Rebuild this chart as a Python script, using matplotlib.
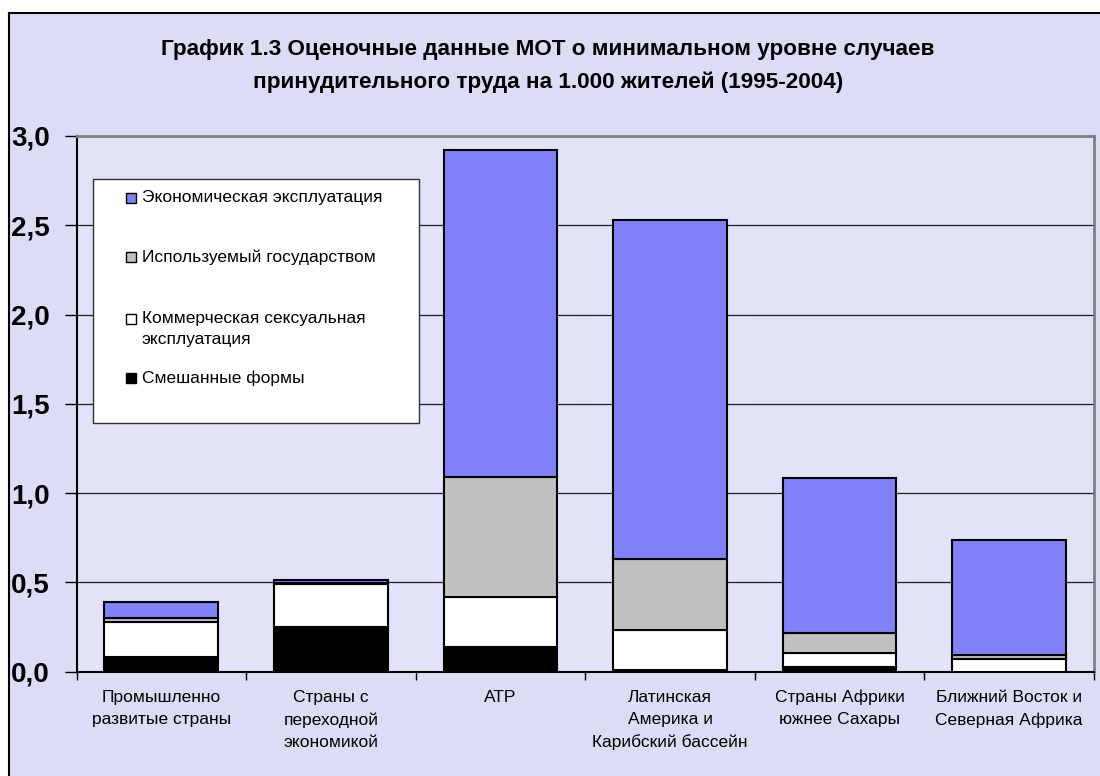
import matplotlib
matplotlib.use('Agg')
import matplotlib.pyplot as plt
from matplotlib.patches import Rectangle
from matplotlib.lines import Line2D
import numpy as np

plt.rcParams['font.family'] = ['Liberation Sans', 'DejaVu Sans']

title = ("График 1.3 Оценочные данные МОТ о минимальном уровне случаев\n"
         "принудительного труда на 1.000 жителей (1995-2004)")

categories = ["Промышленно\nразвитые страны",
              "Страны с\nпереходной\nэкономикой",
              "АТР",
              "Латинская\nАмерика и\nКарибский бассейн",
              "Страны Африки\nюжнее Сахары",
              "Ближний Восток и\nСеверная Африка"]

# stacked from bottom to top
mixed = [0.08, 0.25, 0.14, 0.01, 0.025, 0.0]
commercial_sex = [0.20, 0.24, 0.28, 0.22, 0.08, 0.07]
state_imposed = [0.02, 0.005, 0.67, 0.40, 0.11, 0.025]
economic = [0.09, 0.02, 1.83, 1.90, 0.87, 0.64]

series_names = ["Экономическая эксплуатация",
                "Используемый государством",
                "Коммерческая сексуальная\nэксплуатация",
                "Смешанные формы"]

y_ticks = [0.0, 0.5, 1.0, 1.5, 2.0, 2.5, 3.0]
y_tick_labels = ["0,0", "0,5", "1,0", "1,5", "2,0", "2,5", "3,0"]

bg = '#dcdcf6'
plot_bg = '#e2e2f8'
col_econ = '#8080f8'
col_state = '#c0c0c0'
col_sex = '#ffffff'
col_mixed = '#000000'

W, H = 1100, 776
fig = plt.figure(figsize=(11, 7.76), dpi=100, facecolor='white')


def fx(px):
    return px / W


def fy(py):
    return 1 - py / H


# patterned chart area and its border
fig.patches.append(Rectangle((fx(9), 0), 1 - fx(9), fy(13), transform=fig.transFigure,
                             facecolor=bg, edgecolor='none', zorder=-1))
fig.add_artist(Line2D([fx(9), fx(9)], [0, fy(13)], color='black', lw=1.5))
fig.add_artist(Line2D([fx(9), 1], [fy(13), fy(13)], color='black', lw=1.5))

ax = fig.add_axes([fx(76.5), fy(671.5), fx(1094) - fx(76.5), fy(136) - fy(671.5)])
ax.set_facecolor(plot_bg)

x = np.arange(len(categories))
bottom = np.zeros(len(categories))
for vals, color in zip([mixed, commercial_sex, state_imposed, economic],
                       [col_mixed, col_sex, col_state, col_econ]):
    ax.bar(x, vals, width=0.67, bottom=bottom, color=color,
           edgecolor='black', linewidth=1.5, zorder=3)
    bottom += np.array(vals)

ax.set_xlim(-0.5, len(categories) - 0.5)
ax.set_ylim(0, 3.0)

ax.set_yticks(y_ticks)
ax.set_yticklabels(y_tick_labels, fontsize=20, fontweight='bold')
ax.tick_params(axis='y', direction='out', length=9, width=1, pad=10)
ax.yaxis.grid(True, color='#202020', lw=0.9)
ax.set_axisbelow(True)

ax.set_xticks(np.arange(len(categories) + 1) - 0.5)
ax.set_xticklabels([])
ax.tick_params(axis='x', which='major', direction='out', length=6, width=1)
ax.set_xticks(x, minor=True)
ax.set_xticklabels(categories, minor=True, fontsize=12.5, linespacing=1.6)
ax.tick_params(axis='x', which='minor', length=0, pad=13)

for side in ['left', 'bottom']:
    ax.spines[side].set_color('black')
    ax.spines[side].set_linewidth(1.5)
for side in ['top', 'right']:
    ax.spines[side].set_color('#808080')
    ax.spines[side].set_linewidth(2)

fig.text(fx(548), fy(66), title, ha='center', va='center',
         fontsize=16.2, fontweight='bold', linespacing=1.65)

# legend box
fig.patches.append(Rectangle((fx(93), fy(423)), fx(419) - fx(93), fy(179) - fy(423),
                             transform=fig.transFigure, facecolor='white',
                             edgecolor='#303030', lw=1, zorder=5))
legend_y = [197.7, 257, 318.7, 378.3]
for name, color, ly in zip(series_names, [col_econ, col_state, col_sex, col_mixed], legend_y):
    fig.patches.append(Rectangle((fx(126), fy(ly + 5)), fx(10), 10 / H,
                                 transform=fig.transFigure, facecolor=color,
                                 edgecolor='black', lw=1, zorder=6))
    if '\n' in name:
        fig.text(fx(142), fy(ly - 8), name, ha='left', va='top',
                 fontsize=12.5, linespacing=1.5, zorder=7)
    else:
        fig.text(fx(142), fy(ly), name, ha='left', va='center',
                 fontsize=12.5, zorder=7)

fig.savefig('out.png', dpi=100)
